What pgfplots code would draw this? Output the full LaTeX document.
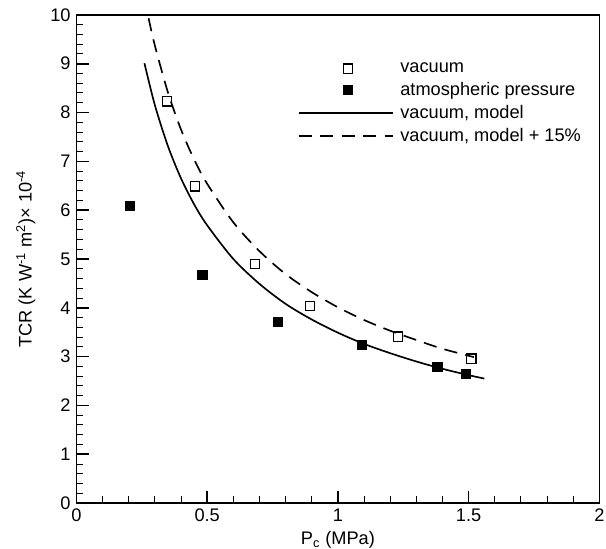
\documentclass[border=0pt]{standalone}
\usepackage{fontspec}
\setmainfont{Liberation Sans}
\usepackage{pgfplots}
\pgfplotsset{compat=1.18}

\pgfplotsset{
  markleg/.style={legend image code/.code={
    \path[draw=none] (0pt,0pt) -- (57pt,0pt);
    \draw[##1,only marks] plot coordinates {(30pt,0pt)};}},
  lineleg/.style={legend image code/.code={
    \draw[##1] (0pt,0pt) -- (57pt,0pt);}},
}
\newcommand{\lf}{\fontsize{11}{13}\selectfont}

\begin{document}
\begin{tikzpicture}
\begin{axis}[
  name=ax,
  scale only axis, width=316pt, height=295pt,
  xmin=0, xmax=2, ymin=0, ymax=10,
  xtick={0,0.5,1,1.5,2}, ytick={0,1,...,10},
  minor x tick num=4, minor y tick num=4,
  xtick pos=bottom, ytick pos=left,
  tick align=inside,
  major tick length=7.5pt, minor tick length=4pt,
  every tick/.style={black, line width=1pt},
  minor tick style={line width=0.6pt},
  axis line style={line width=1pt},
  /pgf/number format/assume math mode=true,
  ticklabel style={font=\lf},
  xlabel={P\textsubscript{c} (MPa)},
  ylabel={TCR (K W\textsuperscript{-1} m\textsuperscript{2})× 10\textsuperscript{-4}},
  xlabel style={font=\lf, at={(axis description cs:0.5,-0.075)}, anchor=center},
  ylabel style={font=\lf, at={(axis description cs:-0.097,0.5)}, anchor=center},
  legend style={draw=none, fill=none, at={(axis cs:0.845,9.1)}, anchor=north west,
    inner sep=0pt, row sep=0.5pt, column sep=2pt, font=\lf},
  legend cell align=left,
  clip=false,
]
\addplot[only marks, mark=square, mark size=2.8pt, mark options={line width=0.8pt, fill=white}, markleg]
  coordinates {(0.346,8.23) (0.454,6.49) (0.683,4.90) (0.893,4.04) (1.23,3.41) (1.51,2.96)};
\addlegendentry{vacuum}
\addplot[only marks, mark=square*, mark size=2.8pt, mark options={fill=black}, markleg]
  coordinates {(0.204,6.09) (0.481,4.67) (0.769,3.71) (1.092,3.24) (1.38,2.79) (1.49,2.65)};
\addlegendentry{atmospheric pressure}
\addplot[line width=1pt, smooth, lineleg] coordinates {
  (0.26,9.01) (0.3,8.15) (0.35,7.31) (0.4,6.65) (0.45,6.12) (0.5,5.69)
  (0.6,5.00) (0.7,4.49) (0.8,4.08) (0.9,3.76) (1.0,3.49) (1.1,3.26)
  (1.2,3.07) (1.3,2.90) (1.4,2.75) (1.5,2.62) (1.56,2.55)};
\addlegendentry{vacuum, model}
\addplot[line width=1pt, smooth, dash pattern=on 8pt off 5pt, lineleg] coordinates {
  (0.276,9.93) (0.3,9.37) (0.35,8.41) (0.4,7.65) (0.45,7.04) (0.5,6.54)
  (0.6,5.75) (0.7,5.16) (0.8,4.69) (0.9,4.32) (1.0,4.01) (1.1,3.75)
  (1.2,3.53) (1.3,3.34) (1.4,3.16) (1.52,2.99)};
\addlegendentry{vacuum, model + 15\%}
\end{axis}
% page margins as in the reference, a little room kept for the "2" label
\pgfresetboundingbox
\path ([shift={(-46.2pt,-27.6pt)}]ax.south west) rectangle ([shift={(4pt,9pt)}]ax.north east);
\end{tikzpicture}
\end{document}
